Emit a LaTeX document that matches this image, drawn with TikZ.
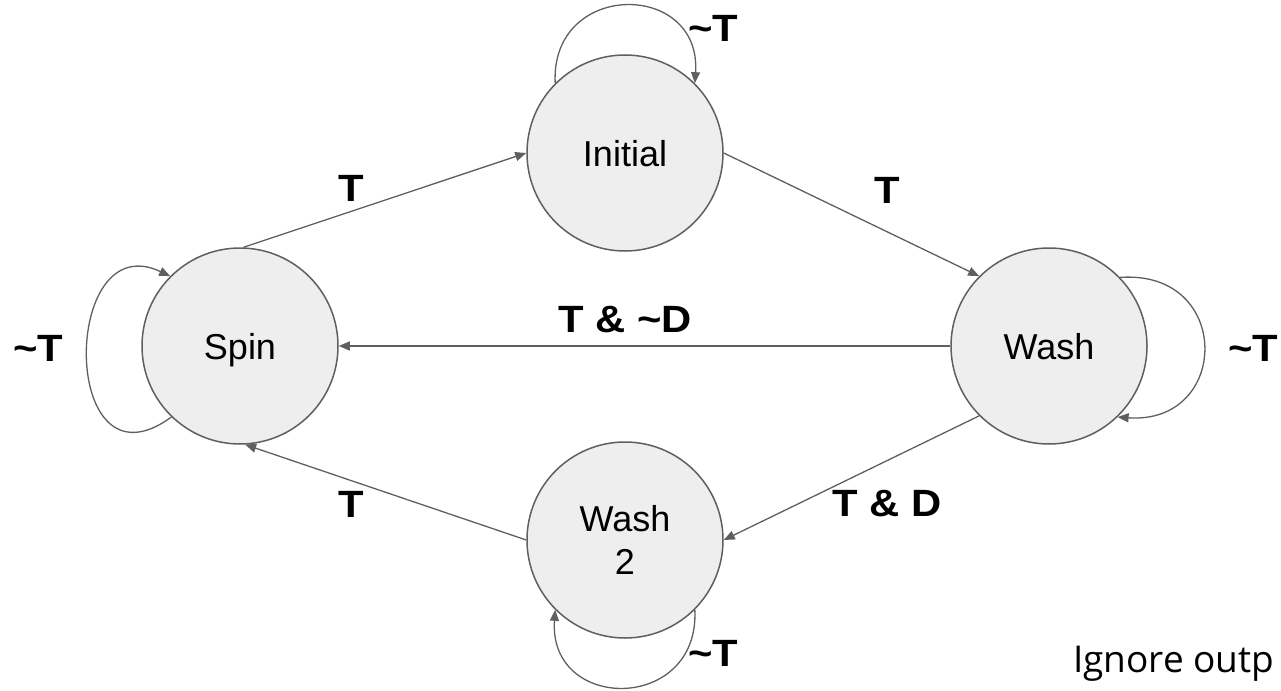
\documentclass[tikz,border=0pt]{standalone}
\usepackage{fontspec}
\setmainfont{Liberation Sans}
\newfontfamily\lblfont[FakeStretch=1.1]{Liberation Sans}
\newfontfamily\notefont{Open Sans}
\usetikzlibrary{arrows.meta}
\definecolor{linegray}{HTML}{5F5F5F}
\definecolor{stategray}{HTML}{EEEEEE}
\tikzset{
  state/.style={circle, draw=linegray, fill=stategray, line width=1.5pt,
    minimum size=196pt, inner sep=0pt, font=\fontsize{36}{43}\selectfont},
  oneline/.style={text height=26pt, text depth=0pt},
  trans/.style={draw=linegray, line width=1.3pt, -{Triangle[length=11pt,width=9pt]}},
  lbl/.style={font=\lblfont\bfseries\fontsize{38}{44}\selectfont, inner sep=0pt},
}
\begin{document}
\begin{tikzpicture}[x=1pt,y=-1pt]
  \useasboundingbox (0,0) rectangle (1281,690);

  % states
  \node[state, oneline] (ini)  at (625,153) {Initial};
  \node[state, oneline] (spin) at (240,346) {Spin};
  \node[state, oneline] (wash) at (1049,346) {Wash};
  \node[state, align=center] (wtwo) at (625,540) {Wash\\2};

  % transitions between states
  \draw[trans] (spin.88) -- (ini.180);
  \draw[trans] (ini.0) -- (wash.135);
  \draw[trans] (wash.180) -- (spin.0);
  \draw[trans] (wash.225) -- (wtwo.0);
  \draw[trans] (wtwo.180) -- (spin.273);

  % self loops
  \draw[trans] (ini.135) .. controls +(-5,-103) and +(7,-103) .. (ini.45);
  \draw[trans] (spin.226) .. controls +(-112,82) and +(-110,-52) .. (spin.135);
  \draw[trans] (wash.44) .. controls +(113,-8) and +(113,8) .. (wash.-46);
  \draw[trans] (wtwo.-45) .. controls +(5,103) and +(-7,103) .. (wtwo.225);

  % transition labels
  \node[lbl] (l1) at (351,188) {T};
  \node[lbl] (l2) at (887,190) {T};
  \node[lbl] (l3) at (625,320) {T \& \textasciitilde D};
  \node[lbl] (l4) at (38,348) {\textasciitilde T};
  \node[lbl] (l5) at (1253,348) {\textasciitilde T};
  \node[lbl] (l6) at (713,28) {\textasciitilde T};
  \node[lbl] (l7) at (351,504) {T};
  \node[lbl] (l8) at (887,504) {T \& D};
  \node[lbl] (l9) at (713,653) {\textasciitilde T};

  % note
  \node[anchor=base west, inner sep=0pt, font=\notefont\fontsize{37}{44}\selectfont] (note) at (1073,672) {Ignore outp};
\end{tikzpicture}
\end{document}
